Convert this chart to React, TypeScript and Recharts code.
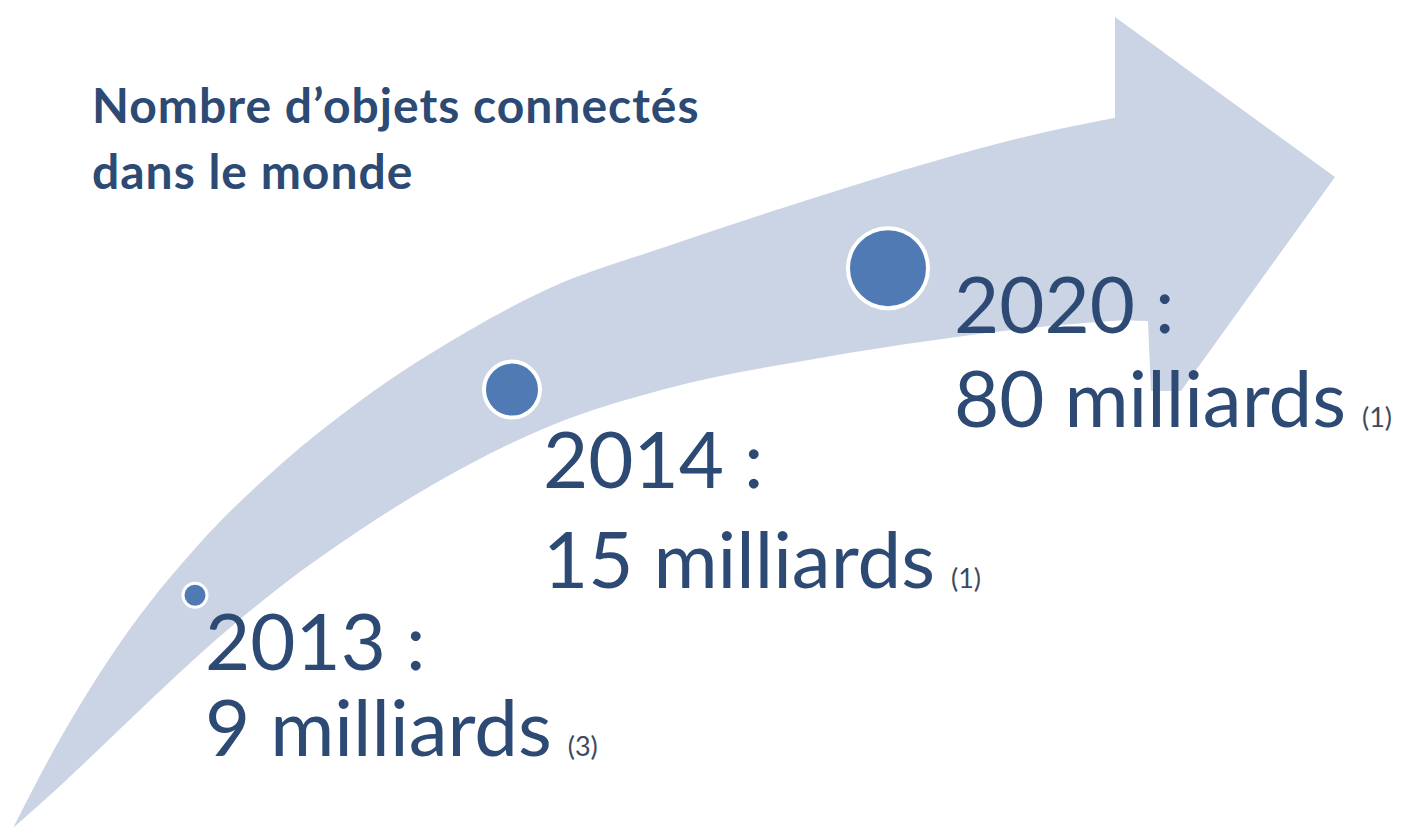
import { Area, ComposedChart, Scatter, XAxis, YAxis } from "recharts";

const W = 1418;
const H = 831;

// what the picture says
const years = ["2013", "2014", "2020"];
const objectsBillions = [9, 15, 80];
const sourceNotes = ["(3)", "(1)", "(1)"];
const title = ["Nombre d\u2019objets connectés", "dans le monde"];

// curved arrow outline, in picture units (x right, y down)
const shaftX = [13, 60, 120, 200, 280, 360, 470, 550, 665, 820, 935, 1050, 1125];
const shaftTop = [828, 739, 643, 543, 465, 401, 330, 288, 247, 196, 161, 131, 116];
const shaftBottom = [828, 786, 729, 654, 587, 530, 464, 426, 389, 358, 340, 326, 320];
const headX = [1115, 1148, 1151, 1181, 1335];
const headTop = [17, 41, 43, 65, 177];
const headBottom = [320, 321, 391, 391, 177];

// where along the arrow each year sits (x, and share of the band's height)
const dotX = [195, 512, 888];
const dotBandPos = [0.42, 0.6, 0.54];
const dotRadius = [12, 28, 40];
const labelOffset = [
  [10, 75],
  [31, 98],
  [66, 65],
];
const lineGap = [86, 100, 94];

const arrowRows = [
  ...shaftX.map((x, i) => ({ x, shaft: [shaftBottom[i], shaftTop[i]] })),
  ...headX.map((x, i) => ({ x, head: [headBottom[i], headTop[i]] })),
].sort((a, b) => a.x - b.x);

const bandAt = (x: number, share: number) => {
  for (let i = 0; i < shaftX.length - 1; i++) {
    if (x >= shaftX[i] && x <= shaftX[i + 1]) {
      const t = (x - shaftX[i]) / (shaftX[i + 1] - shaftX[i]);
      const top = shaftTop[i] + t * (shaftTop[i + 1] - shaftTop[i]);
      const bot = shaftBottom[i] + t * (shaftBottom[i + 1] - shaftBottom[i]);
      return top + share * (bot - top);
    }
  }
  return 0;
};

const dots = years.map((year, i) => ({
  year,
  value: objectsBillions[i],
  note: sourceNotes[i],
  x: dotX[i],
  y: bandAt(dotX[i], dotBandPos[i]),
}));

const ink = "#2c4a74";

const DotWithLabel = (props: any) => {
  const { cx, cy, payload } = props;
  const i = years.indexOf(payload.year);
  const [dx, dy] = labelOffset[i];
  return (
    <g>
      <circle cx={cx} cy={cy} r={dotRadius[i]} fill="#4f7ab4" stroke="#fff" strokeWidth={i === 0 ? 3 : 4} />
      <text x={cx + dx} y={cy + dy} fontFamily="Lato" fontSize={78} fill={ink}>
        {payload.year} :
      </text>
      <text x={cx + dx} y={cy + dy + lineGap[i]} fontFamily="Lato" fontSize={78} fill={ink}>
        {payload.value} milliards
        <tspan fontSize={27} dx={16} fill="#3e4b5e">
          {payload.note}
        </tspan>
      </text>
    </g>
  );
};

export default function App() {
  return (
    <div style={{ position: "absolute", left: 0, top: 0, width: W, height: H, background: "#fff" }}>
      <ComposedChart width={W} height={H} data={arrowRows} margin={{ top: 0, right: 0, bottom: 0, left: 0 }}>
        <XAxis type="number" dataKey="x" domain={[0, W]} hide allowDataOverflow />
        <YAxis type="number" domain={[0, H]} reversed hide allowDataOverflow />
        <Area
          dataKey="shaft"
          type="monotone"
          stroke="none"
          fill="#cbd4e4"
          fillOpacity={1}
          connectNulls
          dot={false}
          activeDot={false}
          isAnimationActive={false}
        />
        <Area
          dataKey="head"
          type="linear"
          stroke="none"
          fill="#cbd4e4"
          fillOpacity={1}
          connectNulls
          dot={false}
          activeDot={false}
          isAnimationActive={false}
        />
        <Scatter data={dots} dataKey="y" shape={<DotWithLabel />} isAnimationActive={false} />
      </ComposedChart>
      <div
        style={{
          position: "absolute",
          left: 92,
          top: 72,
          fontFamily: "Lato",
          fontWeight: 700,
          fontSize: 48,
          letterSpacing: 1,
          lineHeight: "66px",
          color: ink,
          whiteSpace: "nowrap",
        }}
      >
        {title[0]}
        <br />
        {title[1]}
      </div>
    </div>
  );
}
